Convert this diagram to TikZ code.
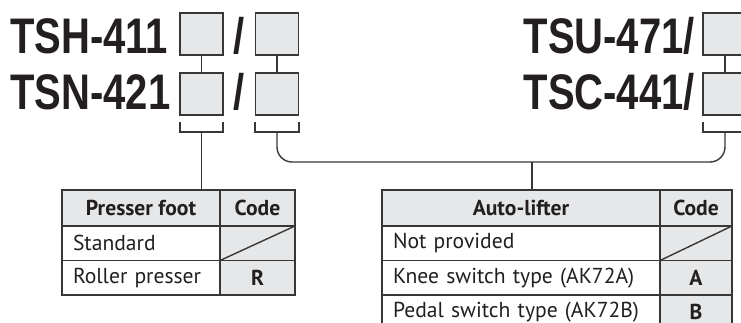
\documentclass[tikz,border=0pt]{standalone}
\usepackage{fontspec}
\setmainfont{PT Sans}
\newfontfamily\modelfont[FakeStretch=0.8]{Liberation Sans}
\newcommand{\cellfont}{\fontsize{21.6}{23}\selectfont}
\usetikzlibrary{positioning}
\definecolor{cellGray}{RGB}{230,231,232}
\definecolor{lineGray}{RGB}{55,55,55}
\definecolor{inkBlack}{RGB}{35,31,32}
\tikzset{
  model label/.style={font=\modelfont\bfseries\fontsize{50}{50}\selectfont,text=inkBlack,inner sep=0pt},
  code box/.style={draw=lineGray,fill=cellGray,line width=1.4pt,minimum width=43pt,minimum height=42pt,inner sep=0pt,outer sep=0pt},
  link line/.style={draw=lineGray,line width=1.4pt},
  head cell/.style={draw=lineGray,fill=cellGray,line width=1.4pt,minimum height=36pt,inner sep=0pt,outer sep=0pt,font=\cellfont\bfseries,text=inkBlack},
  name cell/.style={draw=lineGray,fill=white,line width=1.4pt,minimum height=34.5pt,inner xsep=11pt,inner ysep=0pt,outer sep=0pt,align=left,font=\cellfont,text=inkBlack},
  code cell/.style={draw=lineGray,fill=cellGray,line width=1.4pt,minimum height=34.5pt,inner sep=0pt,outer sep=0pt,font=\cellfont\bfseries,text=inkBlack}
}
\begin{document}
\begin{tikzpicture}[x=1pt,y=-1pt]
  \useasboundingbox (0,0) rectangle (741,322);
  \node[model label,anchor=base west] (tsh) at (10,53) {TSH-411};
  \node[model label,anchor=base west] (tsn) at (10,109) {TSN-421};
  \node[model label,anchor=base] (slasha) at (239,53) {/};
  \node[model label,anchor=base] (slashb) at (239,109) {/};
  \node[model label,anchor=base east] (tsu) at (695,53) {TSU-471/};
  \node[model label,anchor=base east] (tsc) at (695,109) {TSC-441/};
  \node[code box] (boxa) at (201.5,34) {};
  \node[code box] (boxb) at (277,34) {};
  \node[code box] (boxc) at (201.5,94) {};
  \node[code box] (boxd) at (277,94) {};
  \node[code box,minimum width=44pt] (boxe) at (725,34) {};
  \node[code box,minimum width=44pt] (boxf) at (725,94) {};
  \draw[link line] (boxa) -- (boxc);
  \draw[link line] (boxb) -- (boxd);
  \draw[link line] (boxe) -- (boxf);
  \coordinate (pfbrace) at (201.5,132);
  \coordinate (albrace) at (277,132);
  \coordinate (albracer) at (725,132);
  \coordinate (aljoin) at (532,162);
  \draw[link line] (180,122) -- (180,132) -- (223,132) -- (223,122);
  \draw[link line] (255,122) -- (255,132) -- (299,132) -- (299,122);
  \draw[link line] (703,122) -- (703,132) -- (747,132) -- (747,122);
  \node[head cell,minimum width=158pt] (pfhead) at (141,208) {Presser foot};
  \node[head cell,minimum width=75pt,right=0pt of pfhead] (pfcode) {Code};
  \node[name cell,text width=136pt,below=0pt of pfhead] (pfstd) {Standard};
  \node[code cell,minimum width=75pt,below=0pt of pfcode] (pfstdcode) {};
  \node[name cell,text width=136pt,below=0pt of pfstd] (pfroll) {Roller presser};
  \node[code cell,minimum width=75pt,below=0pt of pfstdcode] (pfrollcode) {R};
  \draw[link line] (pfstdcode.south west) -- (pfstdcode.north east);
  \node[head cell,minimum width=278pt] (alhead) at (521,208) {Auto-lifter};
  \node[head cell,minimum width=72pt,right=0pt of alhead] (alcode) {Code};
  \node[name cell,text width=256pt,below=0pt of alhead] (alnone) {Not provided};
  \node[code cell,minimum width=72pt,below=0pt of alcode] (alnonecode) {};
  \node[name cell,text width=256pt,below=0pt of alnone] (alknee) {Knee switch type (AK72A)};
  \node[code cell,minimum width=72pt,below=0pt of alnonecode] (alkneecode) {A};
  \node[name cell,text width=256pt,below=0pt of alknee] (alpedal) {Pedal switch type (AK72B)};
  \node[code cell,minimum width=72pt,below=0pt of alkneecode] (alpedalcode) {B};
  \draw[link line] (alnonecode.south west) -- (alnonecode.north east);
  \draw[link line] (pfbrace) -- (pfbrace |- pfhead.north);
  \draw[link line,rounded corners=15pt] (albrace) |- (aljoin) -| (albracer);
  \draw[link line] (aljoin) -- (aljoin |- alhead.north);
\end{tikzpicture}
\end{document}
